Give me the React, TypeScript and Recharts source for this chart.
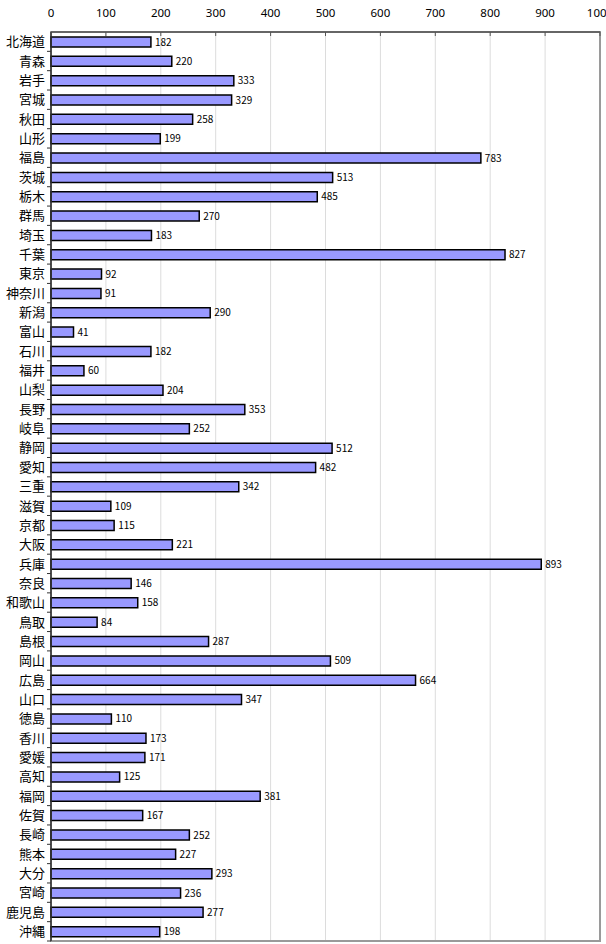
import { BarChart, Bar, XAxis, YAxis, CartesianGrid, LabelList, ReferenceArea } from 'recharts';

const prefectures = [
  '北海道', '青森', '岩手', '宮城', '秋田', '山形', '福島', '茨城', '栃木', '群馬',
  '埼玉', '千葉', '東京', '神奈川', '新潟', '富山', '石川', '福井', '山梨', '長野',
  '岐阜', '静岡', '愛知', '三重', '滋賀', '京都', '大阪', '兵庫', '奈良', '和歌山',
  '鳥取', '島根', '岡山', '広島', '山口', '徳島', '香川', '愛媛', '高知', '福岡',
  '佐賀', '長崎', '熊本', '大分', '宮崎', '鹿児島', '沖縄',
];

const counts = [
  182, 220, 333, 329, 258, 199, 783, 513, 485, 270,
  183, 827, 92, 91, 290, 41, 182, 60, 204, 353,
  252, 512, 482, 342, 109, 115, 221, 893, 146, 158,
  84, 287, 509, 664, 347, 110, 173, 171, 125, 381,
  167, 252, 227, 293, 236, 277, 198,
];

const xTicks = [0, 100, 200, 300, 400, 500, 600, 700, 800, 900, 1000];

const data = prefectures.map((name, i) => ({ name, value: counts[i] }));

const WIDTH = 606;
const HEIGHT = 944;
const MARGIN = { top: 0, right: 6, bottom: 3, left: 0 };
const X_AXIS_HEIGHT = 32;
const Y_AXIS_WIDTH = 51;
const BAND = (HEIGHT - MARGIN.top - MARGIN.bottom - X_AXIS_HEIGHT) / prefectures.length;
const TICK_GAP = 14;

// top axis: label above, short tick pointing down into the plot
const TopTick = (props: any) => {
  const { x, y, payload } = props;
  const axisY = y + TICK_GAP;
  return (
    <g>
      <line x1={x} x2={x} y1={axisY} y2={axisY + 4} stroke="#555" />
      <text x={x} y={y - 1} textAnchor="middle" fontSize={11.5} fill="#000" fontFamily="'Noto Sans', sans-serif">
        {payload.value}
      </text>
    </g>
  );
};

// category axis: tick marks sit between the bands
const LeftTick = (props: any) => {
  const { x, y, payload } = props;
  const axisX = x + 6;
  return (
    <g>
      <line x1={axisX - 4} x2={axisX} y1={y + BAND / 2} y2={y + BAND / 2} stroke="#333" />
      <text x={x} y={y} dy="0.36em" textAnchor="end" fontSize={13} fill="#000" fontFamily="'Noto Sans CJK JP', sans-serif">
        {payload.value}
      </text>
    </g>
  );
};

const App = () => {
  return (
    <div style={{ position: 'absolute', left: 0, top: 0, background: '#fff' }}>
      <BarChart width={WIDTH} height={HEIGHT} data={data} layout="vertical" margin={MARGIN}>
        <CartesianGrid horizontal={false} stroke="#dcdcdc" />
        <ReferenceArea x1={0} x2={1000} fill="none" stroke="#9a9a9a" strokeWidth={2} />
        <XAxis
          type="number"
          orientation="top"
          domain={[0, 1000]}
          ticks={xTicks}
          height={X_AXIS_HEIGHT}
          tickSize={0}
          tickMargin={TICK_GAP}
          tick={<TopTick />}
          axisLine={{ stroke: '#555', strokeWidth: 1.5 }}
          interval={0}
        />
        <YAxis
          type="category"
          dataKey="name"
          width={Y_AXIS_WIDTH}
          tickSize={0}
          tickMargin={6}
          tick={<LeftTick />}
          axisLine={{ stroke: '#333', strokeWidth: 1.5 }}
          interval={0}
        />
        <Bar dataKey="value" fill="#9999ff" stroke="#000" strokeWidth={1.5} barSize={10} isAnimationActive={false}>
          <LabelList dataKey="value" position="right" offset={4} fontSize={10} fill="#000" fontFamily="'Noto Sans CJK JP', sans-serif" />
        </Bar>
      </BarChart>
    </div>
  );
};

export default App;
